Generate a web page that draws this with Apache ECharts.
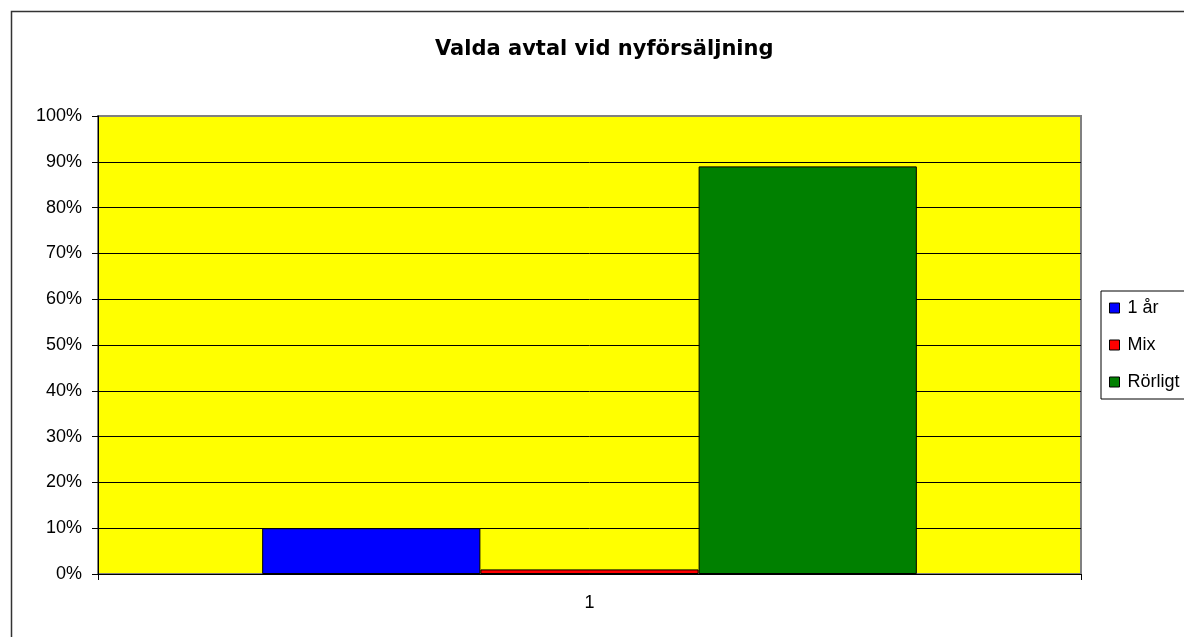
<!DOCTYPE html>
<html>
<head>
<meta charset="utf-8">
<script src="https://cdn.jsdelivr.net/npm/echarts@6/dist/echarts.min.js"></script>
<style>html,body{margin:0;padding:0;background:#fff}#c{width:1184px;height:637px}</style>
</head>
<body>
<div id="c"></div>
<script>
var categories = ['1'];
var seriesNames = ['1 år', 'Mix', 'Rörligt'];
var seriesColors = ['#0000FF', '#FF0000', '#008000'];
var val1ar = [10];
var valMix = [1];
var valRorligt = [89];
var yTicks = [0, 10, 20, 30, 40, 50, 60, 70, 80, 90, 100];

var values = [val1ar, valMix, valRorligt];
var chart = echarts.init(document.getElementById('c'));
var font = 'Liberation Sans, Arial, sans-serif';
chart.setOption({
  animation: false,
  backgroundColor: '#fff',
  graphic: [{
    type: 'rect', left: 9, top: 9, z: -10,
    shape: { width: 1300, height: 800 },
    style: { fill: 'none', stroke: '#333', lineWidth: 1.5 }
  }],
  title: {
    text: 'Valda avtal vid nyförsäljning',
    left: 430, top: 34,
    textStyle: { fontFamily: 'DejaVu Sans, sans-serif', fontSize: 21, fontWeight: 'bold', color: '#000' }
  },
  legend: {
    orient: 'vertical',
    left: 1101, top: 291,
    data: seriesNames,
    icon: 'rect',
    itemWidth: 10, itemHeight: 10,
    itemGap: 19,
    padding: [8, 8, 8, 8],
    borderColor: '#000', borderWidth: 1,
    textStyle: { fontFamily: font, fontSize: 18, color: '#000', padding: [0, 0, 0, 3] },
    itemStyle: { borderColor: '#000', borderWidth: 1 }
  },
  grid: {
    left: 98, right: 103, top: 116, bottom: 63,
    show: true, backgroundColor: '#FFFF00', borderColor: '#808080', borderWidth: 2
  },
  xAxis: {
    type: 'category',
    data: categories,
    axisLine: { lineStyle: { color: '#000', width: 1 } },
    axisTick: { show: true, length: 6, lineStyle: { color: '#000' } },
    axisLabel: { fontFamily: font, fontSize: 18, color: '#000', margin: 20 }
  },
  yAxis: {
    type: 'value', min: 0, max: 100, interval: 10,
    axisLine: { show: true, lineStyle: { color: '#000', width: 1 } },
    axisTick: { show: true, length: 6, lineStyle: { color: '#000' } },
    axisLabel: { fontFamily: font, fontSize: 18, color: '#000', margin: 16, formatter: '{value}%' },
    splitLine: { show: true, showMaxLine: false, lineStyle: { color: '#000', width: 1 } }
  },
  series: seriesNames.map(function (n, i) {
    return {
      name: n, type: 'bar', data: values[i],
      barGap: '0%', barCategoryGap: '33.4%',
      itemStyle: { color: seriesColors[i], borderColor: '#000', borderWidth: 1 }
    };
  })
});
</script>
</body>
</html>
